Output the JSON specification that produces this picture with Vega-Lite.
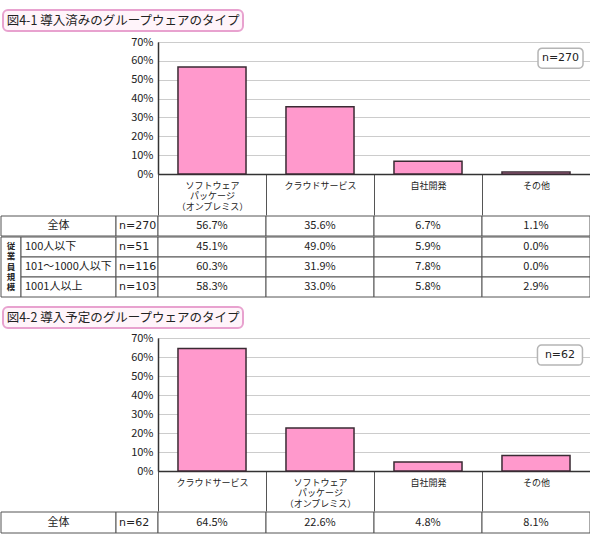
{
  "$schema": "https://vega.github.io/schema/vega-lite/v6.json",
  "padding": 0,
  "background": "white",
  "spacing": -1,
  "datasets": {
    "titles": [
      {"fig": "1", "title": "図4-1 導入済みのグループウェアのタイプ"},
      {"fig": "2", "title": "図4-2 導入予定のグループウェアのタイプ"}
    ],
    "t1": [
      {"row": "全体", "cat": "ソフトウェア\nパッケージ\n（オンプレミス）", "value": 0.567},
      {"row": "全体", "cat": "クラウドサービス", "value": 0.356},
      {"row": "全体", "cat": "自社開発", "value": 0.067},
      {"row": "全体", "cat": "その他", "value": 0.011},
      {"row": "100人以下", "cat": "ソフトウェア\nパッケージ\n（オンプレミス）", "value": 0.451},
      {"row": "100人以下", "cat": "クラウドサービス", "value": 0.490},
      {"row": "100人以下", "cat": "自社開発", "value": 0.059},
      {"row": "100人以下", "cat": "その他", "value": 0.000},
      {"row": "101～1000人以下", "cat": "ソフトウェア\nパッケージ\n（オンプレミス）", "value": 0.603},
      {"row": "101～1000人以下", "cat": "クラウドサービス", "value": 0.319},
      {"row": "101～1000人以下", "cat": "自社開発", "value": 0.078},
      {"row": "101～1000人以下", "cat": "その他", "value": 0.000},
      {"row": "1001人以上", "cat": "ソフトウェア\nパッケージ\n（オンプレミス）", "value": 0.583},
      {"row": "1001人以上", "cat": "クラウドサービス", "value": 0.330},
      {"row": "1001人以上", "cat": "自社開発", "value": 0.058},
      {"row": "1001人以上", "cat": "その他", "value": 0.029}
    ],
    "n1": [
      {"row": "全体", "n": 270},
      {"row": "100人以下", "n": 51},
      {"row": "101～1000人以下", "n": 116},
      {"row": "1001人以上", "n": 103}
    ],
    "t2": [
      {"row": "全体", "cat": "クラウドサービス", "value": 0.645},
      {"row": "全体", "cat": "ソフトウェア\nパッケージ\n（オンプレミス）", "value": 0.226},
      {"row": "全体", "cat": "自社開発", "value": 0.048},
      {"row": "全体", "cat": "その他", "value": 0.081}
    ],
    "n2": [
      {"row": "全体", "n": 62}
    ],
    "group": [
      {"label": "従\n業\n員\n規\n模"}
    ]
  },
  "vconcat": [
    {"width": 590, "height": 10, "data": {"values": []}, "mark": "point"},
    {
      "hconcat": [
        {"width": 2, "height": 21, "data": {"values": []}, "mark": "point"},
        {
          "width": 240, "height": 21,
          "view": {"stroke": "#e8a2cf", "strokeWidth": 2, "cornerRadius": 5, "fill": "#fff4fa"},
          "data": {"name": "titles"},
          "transform": [{"filter": "datum.fig === '1'"}],
          "mark": {"type": "text", "fontSize": 12.5, "align": "center", "baseline": "middle", "color": "#222"},
          "encoding": {"text": {"field": "title"}}
        }
      ],
      "spacing": 0, "bounds": "flush"
    },
    {"width": 590, "height": 3.5, "data": {"values": []}, "mark": "point"},
    {
      "hconcat": [
        {"width": 157, "height": 132, "data": {"values": []}, "mark": "point"},
        {
          "width": 432, "height": 132,
          "view": {"stroke": "#555555", "strokeWidth": 1},
          "layer": [
            {
              "data": {"name": "t1"},
              "transform": [{"filter": "datum.row === '全体'"}],
              "mark": {"type": "bar", "width": {"band": 0.63}, "fill": "#ff99cc", "stroke": "#3a2a33", "strokeWidth": 1.5},
              "encoding": {
                "x": {"field": "cat", "type": "nominal", "scale": {"domain": ["ソフトウェア\nパッケージ\n（オンプレミス）", "クラウドサービス", "自社開発", "その他"], "paddingInner": 0, "paddingOuter": 0},
                  "axis": {"title": null, "tickBand": "extent", "tickSize": 41, "tickColor": "#555555", "tickWidth": 1, "domainColor": "#333333", "domainWidth": 1.5, "labelAngle": 0, "labelAlign": "center", "labelBaseline": "top", "labelPadding": -34, "labelFontSize": 9, "labelLineHeight": 10.8, "labelColor": "#222222", "labelOverlap": false, "labelBound": false, "labelExpr": "split(datum.label, '\\n')"}},
                "y": {"field": "value", "type": "quantitative", "scale": {"domain": [0, 0.7], "nice": false},
                  "axis": {"values": [0, 0.1, 0.2, 0.3, 0.4, 0.5, 0.6, 0.7], "format": ".0%", "grid": true, "gridColor": "#cccccc", "domainColor": "#333333", "domainWidth": 1.5, "ticks": false, "labelPadding": 5, "labelFontSize": 11, "labelColor": "#222222", "labelOverlap": false, "labelBound": false, "labelFlush": false, "title": null}}
              }
            },
            {
              "data": {"name": "n1"},
              "transform": [{"filter": "datum.row === '全体'"}, {"calculate": "'n=' + datum.n", "as": "label"}],
              "layer": [
                {
                  "mark": {"type": "point", "shape": "M-0.82,-0.444H0.82A0.178,0.178,0,0,1,1,-0.266V0.266A0.178,0.178,0,0,1,0.82,0.444H-0.82A0.178,0.178,0,0,1,-1,0.266V-0.266A0.178,0.178,0,0,1,-0.82,-0.444Z", "size": 2025, "filled": true, "fill": "white", "stroke": "#b5b5b5", "strokeWidth": 1.5, "opacity": 1}
                },
                {
                  "mark": {"type": "text", "font": "DejaVu Sans", "fontSize": 11, "align": "center", "baseline": "middle", "color": "#222"},
                  "encoding": {"text": {"field": "label"}}
                }
              ],
              "encoding": {
                "x": {"datum": "その他", "type": "nominal", "bandPosition": 0.727},
                "y": {"datum": 0.614, "type": "quantitative",
                  "axis": {"values": [0, 0.1, 0.2, 0.3, 0.4, 0.5, 0.6, 0.7], "format": ".0%", "grid": true, "gridColor": "#cccccc", "domainColor": "#333333", "domainWidth": 1.5, "ticks": false, "labelPadding": 5, "labelFontSize": 11, "labelColor": "#222222", "labelOverlap": false, "labelBound": false, "labelFlush": false, "title": null}}
              }
            }
          ]
        }
      ],
      "spacing": 0, "bounds": "flush"
    },
    {
      "hconcat": [
        {
          "width": 115, "height": 20,
          "data": {"name": "n1"},
          "transform": [{"filter": "datum.row === '全体'"}],
          "encoding": {"y": {"field": "row", "type": "nominal", "scale": {"paddingInner": 0, "paddingOuter": 0}, "axis": null}},
          "layer": [
            {"mark": {"type": "rect", "fill": "white", "stroke": "#555555", "strokeWidth": 1}},
            {"mark": {"type": "text", "fontSize": 11, "color": "#222"}, "encoding": {"text": {"field": "row"}}}
          ]
        },
        {
          "width": 42, "height": 20,
          "data": {"name": "n1"},
          "transform": [{"filter": "datum.row === '全体'"}, {"calculate": "'n=' + datum.n", "as": "label"}],
          "encoding": {"y": {"field": "row", "type": "nominal", "scale": {"paddingInner": 0, "paddingOuter": 0}, "axis": null}},
          "layer": [
            {"mark": {"type": "rect", "fill": "white", "stroke": "#555555", "strokeWidth": 1}},
            {"mark": {"type": "text", "align": "left", "dx": -18, "fontSize": 11, "font": "DejaVu Sans", "color": "#222"}, "encoding": {"text": {"field": "label"}}}
          ]
        },
        {
          "width": 432, "height": 20,
          "data": {"name": "t1"},
          "transform": [{"filter": "datum.row === '全体'"}],
          "encoding": {
            "x": {"field": "cat", "type": "nominal", "scale": {"domain": ["ソフトウェア\nパッケージ\n（オンプレミス）", "クラウドサービス", "自社開発", "その他"], "paddingInner": 0, "paddingOuter": 0}, "axis": null}
          },
          "layer": [
            {"mark": {"type": "rect", "fill": "white", "stroke": "#555555", "strokeWidth": 1}},
            {"mark": {"type": "text", "fontSize": 11, "color": "#222"}, "encoding": {"text": {"field": "value", "type": "quantitative", "format": ".1%"}}}
          ]
        }
      ],
      "spacing": 0, "bounds": "flush"
    },
    {
      "hconcat": [
        {
          "width": 20, "height": 60,
          "data": {"name": "group"},
          "encoding": {"y": {"field": "label", "type": "nominal", "scale": {"paddingInner": 0, "paddingOuter": 0}, "axis": null}},
          "layer": [
            {"mark": {"type": "rect", "fill": "white", "stroke": "#555555", "strokeWidth": 1}},
            {"mark": {"type": "text", "fontSize": 8.5, "fontWeight": "bold", "lineBreak": "\n", "lineHeight": 10.3, "baseline": "top", "dy": -24.8, "color": "#222"}, "encoding": {"text": {"field": "label"}}}
          ]
        },
        {
          "width": 95, "height": 60,
          "data": {"name": "n1"},
          "transform": [{"filter": "datum.row !== '全体'"}],
          "encoding": {
            "y": {"field": "row", "type": "nominal", "scale": {"domain": ["100人以下", "101～1000人以下", "1001人以上"], "paddingInner": 0, "paddingOuter": 0}, "axis": null}
          },
          "layer": [
            {"mark": {"type": "rect", "fill": "white", "stroke": "#555555", "strokeWidth": 1}},
            {"mark": {"type": "text", "align": "left", "dx": -43.5, "fontSize": 11, "color": "#222"}, "encoding": {"text": {"field": "row"}}}
          ]
        },
        {
          "width": 42, "height": 60,
          "data": {"name": "n1"},
          "transform": [{"filter": "datum.row !== '全体'"}, {"calculate": "'n=' + datum.n", "as": "label"}],
          "encoding": {
            "y": {"field": "row", "type": "nominal", "scale": {"domain": ["100人以下", "101～1000人以下", "1001人以上"], "paddingInner": 0, "paddingOuter": 0}, "axis": null}
          },
          "layer": [
            {"mark": {"type": "rect", "fill": "white", "stroke": "#555555", "strokeWidth": 1}},
            {"mark": {"type": "text", "align": "left", "dx": -18, "fontSize": 11, "font": "DejaVu Sans", "color": "#222"}, "encoding": {"text": {"field": "label"}}}
          ]
        },
        {
          "width": 432, "height": 60,
          "data": {"name": "t1"},
          "transform": [{"filter": "datum.row !== '全体'"}],
          "encoding": {
            "x": {"field": "cat", "type": "nominal", "scale": {"domain": ["ソフトウェア\nパッケージ\n（オンプレミス）", "クラウドサービス", "自社開発", "その他"], "paddingInner": 0, "paddingOuter": 0}, "axis": null},
            "y": {"field": "row", "type": "nominal", "scale": {"domain": ["100人以下", "101～1000人以下", "1001人以上"], "paddingInner": 0, "paddingOuter": 0}, "axis": null}
          },
          "layer": [
            {"mark": {"type": "rect", "fill": "white", "stroke": "#555555", "strokeWidth": 1}},
            {"mark": {"type": "text", "fontSize": 11, "color": "#222"}, "encoding": {"text": {"field": "value", "type": "quantitative", "format": ".1%"}}}
          ]
        }
      ],
      "spacing": 0, "bounds": "flush"
    },
    {"width": 590, "height": 8.5, "data": {"values": []}, "mark": "point"},
    {
      "hconcat": [
        {"width": 2, "height": 21, "data": {"values": []}, "mark": "point"},
        {
          "width": 240, "height": 21,
          "view": {"stroke": "#e8a2cf", "strokeWidth": 2, "cornerRadius": 5, "fill": "#fff4fa"},
          "data": {"name": "titles"},
          "transform": [{"filter": "datum.fig === '2'"}],
          "mark": {"type": "text", "fontSize": 12.5, "align": "center", "baseline": "middle", "color": "#222"},
          "encoding": {"text": {"field": "title"}}
        }
      ],
      "spacing": 0, "bounds": "flush"
    },
    {"width": 590, "height": 2.5, "data": {"values": []}, "mark": "point"},
    {
      "hconcat": [
        {"width": 157, "height": 133, "data": {"values": []}, "mark": "point"},
        {
          "width": 432, "height": 133,
          "view": {"stroke": "#555555", "strokeWidth": 1},
          "layer": [
            {
              "data": {"name": "t2"},
              "mark": {"type": "bar", "width": {"band": 0.63}, "fill": "#ff99cc", "stroke": "#3a2a33", "strokeWidth": 1.5},
              "encoding": {
                "x": {"field": "cat", "type": "nominal", "scale": {"domain": ["クラウドサービス", "ソフトウェア\nパッケージ\n（オンプレミス）", "自社開発", "その他"], "paddingInner": 0, "paddingOuter": 0},
                  "axis": {"title": null, "tickBand": "extent", "tickSize": 40, "tickColor": "#555555", "tickWidth": 1, "domainColor": "#333333", "domainWidth": 1.5, "labelAngle": 0, "labelAlign": "center", "labelBaseline": "top", "labelPadding": -33, "labelFontSize": 9, "labelLineHeight": 10.8, "labelColor": "#222222", "labelOverlap": false, "labelBound": false, "labelExpr": "split(datum.label, '\\n')"}},
                "y": {"field": "value", "type": "quantitative", "scale": {"domain": [0, 0.7], "nice": false},
                  "axis": {"values": [0, 0.1, 0.2, 0.3, 0.4, 0.5, 0.6, 0.7], "format": ".0%", "grid": true, "gridColor": "#cccccc", "domainColor": "#333333", "domainWidth": 1.5, "ticks": false, "labelPadding": 5, "labelFontSize": 11, "labelColor": "#222222", "labelOverlap": false, "labelBound": false, "labelFlush": false, "title": null}}
              }
            },
            {
              "data": {"name": "n2"},
              "transform": [{"calculate": "'n=' + datum.n", "as": "label"}],
              "layer": [
                {
                  "mark": {"type": "point", "shape": "M-0.82,-0.444H0.82A0.178,0.178,0,0,1,1,-0.266V0.266A0.178,0.178,0,0,1,0.82,0.444H-0.82A0.178,0.178,0,0,1,-1,0.266V-0.266A0.178,0.178,0,0,1,-0.82,-0.444Z", "size": 2025, "filled": true, "fill": "white", "stroke": "#b5b5b5", "strokeWidth": 1.5, "opacity": 1}
                },
                {
                  "mark": {"type": "text", "font": "DejaVu Sans", "fontSize": 11, "align": "center", "baseline": "middle", "color": "#222"},
                  "encoding": {"text": {"field": "label"}}
                }
              ],
              "encoding": {
                "x": {"datum": "その他", "type": "nominal", "bandPosition": 0.722},
                "y": {"datum": 0.61, "type": "quantitative",
                  "axis": {"values": [0, 0.1, 0.2, 0.3, 0.4, 0.5, 0.6, 0.7], "format": ".0%", "grid": true, "gridColor": "#cccccc", "domainColor": "#333333", "domainWidth": 1.5, "ticks": false, "labelPadding": 5, "labelFontSize": 11, "labelColor": "#222222", "labelOverlap": false, "labelBound": false, "labelFlush": false, "title": null}}
              }
            }
          ]
        }
      ],
      "spacing": 0, "bounds": "flush"
    },
    {
      "hconcat": [
        {
          "width": 115, "height": 21,
          "data": {"name": "n2"},
          "encoding": {"y": {"field": "row", "type": "nominal", "scale": {"paddingInner": 0, "paddingOuter": 0}, "axis": null}},
          "layer": [
            {"mark": {"type": "rect", "fill": "white", "stroke": "#555555", "strokeWidth": 1}},
            {"mark": {"type": "text", "fontSize": 11, "color": "#222"}, "encoding": {"text": {"field": "row"}}}
          ]
        },
        {
          "width": 42, "height": 21,
          "data": {"name": "n2"},
          "transform": [{"calculate": "'n=' + datum.n", "as": "label"}],
          "encoding": {"y": {"field": "row", "type": "nominal", "scale": {"paddingInner": 0, "paddingOuter": 0}, "axis": null}},
          "layer": [
            {"mark": {"type": "rect", "fill": "white", "stroke": "#555555", "strokeWidth": 1}},
            {"mark": {"type": "text", "align": "left", "dx": -18, "fontSize": 11, "font": "DejaVu Sans", "color": "#222"}, "encoding": {"text": {"field": "label"}}}
          ]
        },
        {
          "width": 432, "height": 21,
          "data": {"name": "t2"},
          "encoding": {
            "x": {"field": "cat", "type": "nominal", "scale": {"domain": ["クラウドサービス", "ソフトウェア\nパッケージ\n（オンプレミス）", "自社開発", "その他"], "paddingInner": 0, "paddingOuter": 0}, "axis": null}
          },
          "layer": [
            {"mark": {"type": "rect", "fill": "white", "stroke": "#555555", "strokeWidth": 1}},
            {"mark": {"type": "text", "fontSize": 11, "color": "#222"}, "encoding": {"text": {"field": "value", "type": "quantitative", "format": ".1%"}}}
          ]
        }
      ],
      "spacing": 0, "bounds": "flush"
    }
  ],
  "config": {
    "font": "Noto Sans CJK JP",
    "view": {"stroke": null},
    "text": {"font": "Noto Sans CJK JP"},
    "axis": {"labelFont": "Noto Sans CJK JP"}
  }
}
